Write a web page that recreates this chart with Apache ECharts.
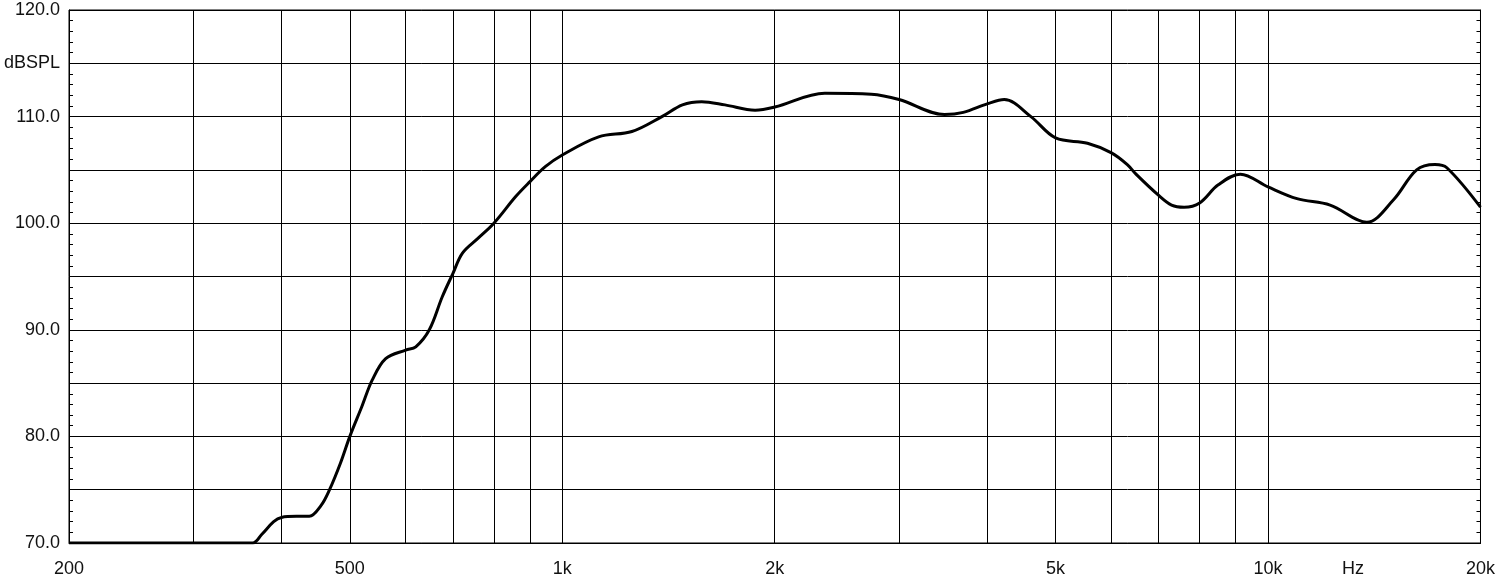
<!DOCTYPE html>
<html>
<head>
<meta charset="utf-8">
<script src="https://cdn.jsdelivr.net/npm/echarts@6/dist/echarts.min.js"></script>
<style>
html,body{margin:0;padding:0;background:#fff;overflow:hidden;}
#c{width:1498px;height:585px;}
</style>
</head>
<body>
<div id="c"></div>
<script>
// Frequency (Hz) and SPL (dB)
const freq = [200, 364, 375, 390, 400, 420, 438, 455, 468, 485, 500, 520, 538, 562, 600, 620, 648, 676, 700, 722, 760, 800, 859, 900, 946, 1000, 1126, 1255, 1384, 1480, 1576, 1700, 1876, 2000, 2355, 2740, 3000, 3480, 3700, 4000, 4229, 4613, 5000, 5548, 6000, 6318, 6500, 7000, 7300, 7603, 8000, 8500, 9137, 10000, 10990, 12245, 13800, 15060, 16240, 17240, 17920, 20000];
const spl  = [70.0, 70.0, 70.8, 72.0, 72.4, 72.5, 72.5, 73.5, 75.0, 77.5, 80.0, 82.8, 85.3, 87.3, 88.1, 88.4, 90.0, 93.1, 95.3, 97.2, 98.6, 100.0, 102.5, 103.9, 105.3, 106.4, 108.1, 108.6, 110.0, 111.1, 111.4, 111.1, 110.6, 110.9, 112.2, 112.1, 111.6, 110.2, 110.4, 111.2, 111.6, 110.0, 108.0, 107.5, 106.6, 105.5, 104.6, 102.6, 101.7, 101.5, 101.9, 103.6, 104.6, 103.4, 102.3, 101.7, 100.1, 102.2, 105.0, 105.5, 105.2, 101.5];

// Vertical grid frequencies and x-axis labels
const gridFreqs = [300, 400, 500, 600, 700, 800, 900, 1000, 2000, 3000, 4000, 5000, 6000, 7000, 8000, 9000, 10000];
const xLabelValues = [200, 500, 1000, 2000, 5000, 10000, 13190, 20000];
const xLabelTexts  = ['200', '500', '1k', '2k', '5k', '10k', 'Hz', '20k'];
const yUnitLabel = 'dBSPL';

const font = 'Liberation Sans, Arial, sans-serif';
const chart = echarts.init(document.getElementById('c'), null, {renderer: 'canvas'});

const yCommon = {
  type: 'value', min: 70, max: 120, interval: 5,
  axisLine: {show: true, lineStyle: {color: '#000', width: 1}},
  axisTick: {show: false, inside: true},
  minorTick: {show: true, splitNumber: 5, length: 4, lineStyle: {color: '#000', width: 1}}
};

chart.setOption({
  animation: false,
  backgroundColor: '#fff',
  grid: {left: 69, top: 10, right: 14, bottom: 42, show: true, borderColor: '#000', borderWidth: 1, containLabel: false},
  xAxis: {
    type: 'log', logBase: 10, min: 200, max: 20000,
    axisLine: {show: true, lineStyle: {color: '#000', width: 1}},
    axisTick: {show: false},
    splitLine: {show: false},
    minorTick: {show: false},
    axisLabel: {
      customValues: xLabelValues,
      formatter: function (v) {
        let best = 0, bd = Infinity;
        xLabelValues.forEach((x, i) => { const d = Math.abs(Math.log(x) - Math.log(v)); if (d < bd) { bd = d; best = i; } });
        return xLabelTexts[best];
      },
      margin: 17, color: '#111', fontFamily: font, fontSize: 18,
      showMinLabel: true, showMaxLabel: true, hideOverlap: false
    }
  },
  yAxis: [
    Object.assign({}, yCommon, {
      position: 'left',
      splitLine: {show: true, lineStyle: {color: '#000', width: 1}},
      axisLabel: {
        margin: 9, color: '#111', fontFamily: font, fontSize: 18,
        formatter: function (v) {
          if (Math.abs(v - 115) < 0.01) return yUnitLabel;
          if (Math.round(v) % 10 === 0) return v.toFixed(1);
          return '';
        }
      }
    }),
    Object.assign({}, yCommon, {
      position: 'right',
      splitLine: {show: false},
      axisLabel: {show: false}
    })
  ],
  series: [{
    type: 'line',
    yAxisIndex: 0,
    data: freq.map((f, i) => [f, spl[i]]),
    smooth: 0.35,
    symbol: 'none',
    lineStyle: {color: '#000', width: 3},
    clip: true,
    z: 5,
    markLine: {
      silent: true,
      symbol: ['none', 'none'],
      label: {show: false},
      lineStyle: {color: '#000', width: 1, type: 'solid'},
      emphasis: {disabled: true},
      data: gridFreqs.map(f => ({xAxis: f}))
    }
  }]
});
</script>
</body>
</html>
